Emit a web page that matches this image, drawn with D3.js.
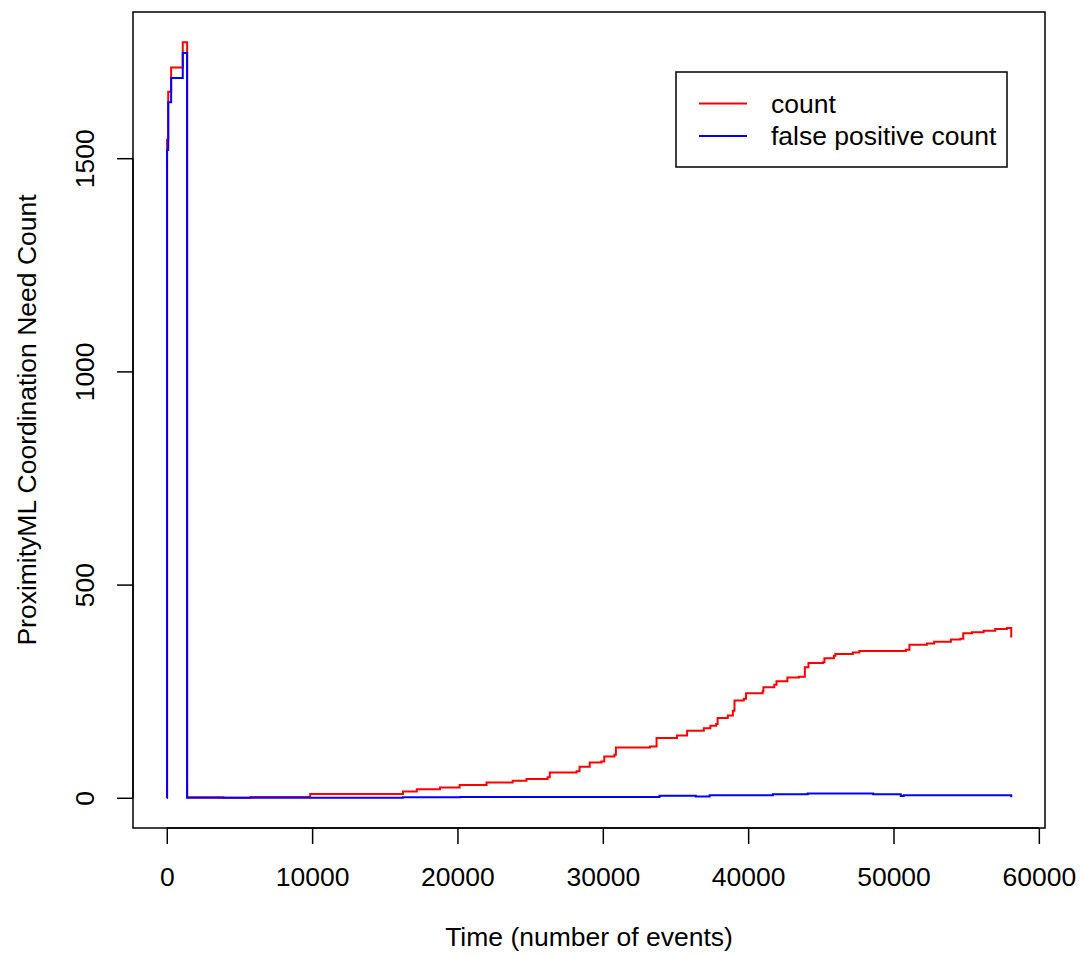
<!DOCTYPE html>
<html>
<head>
<meta charset="utf-8">
<script src="https://cdn.jsdelivr.net/npm/d3@7"></script>
<style>
  body { margin: 0; background: #fff; }
  text { font-family: "Liberation Sans", Arial, sans-serif; }
</style>
</head>
<body>
<div id="chart"></div>
<script>
// step series: value holds from x until the next x
const countX = [0, 20, 100, 300, 1100, 1400, 3900, 5750, 9870, 16250, 17200, 18800, 20150, 22000, 23800, 24750, 26200, 26350, 28200, 28400, 29100, 29900, 30100, 30800, 30900, 33250, 33700, 35100, 35800, 36950, 37400, 37800, 37900, 38600, 38950, 39060, 39700, 39850, 41000, 41050, 41800, 41950, 42700, 43500, 43900, 44150, 45150, 45250, 45900, 46000, 47200, 47650, 50850, 51100, 52300, 52800, 53950, 54600, 54800, 55400, 56200, 57000, 57800, 58100];
const countY = [0, 1543, 1656, 1713, 1772, 1, 0, 2, 9, 15, 20, 24, 30, 36, 40, 44, 48, 59, 62, 73, 83, 85, 97, 101, 118, 120, 140, 146, 157, 163, 169, 173, 187, 193, 204, 228, 232, 245, 250, 259, 265, 273, 282, 284, 306, 316, 318, 327, 333, 337, 341, 344, 347, 359, 362, 366, 371, 373, 386, 388, 392, 396, 398, 376];
const fpX = [0, 20, 100, 300, 1100, 1400, 16250, 20200, 30250, 33900, 36400, 37350, 41700, 44100, 48600, 50500, 50700, 58100];
const fpY = [0, 1519, 1631, 1688, 1747, 0, 1, 2, 2, 5, 3, 6, 8, 10, 8, 4, 6, 1];
const xTicks = [0, 10000, 20000, 30000, 40000, 50000, 60000];
const yTicks = [0, 500, 1000, 1500];
const seriesNames = ["count", "false positive count"];
const seriesColors = ["#ff0000", "#0000ff"];

const W = 1083, H = 956;
const box = { left: 133, right: 1045, top: 12, bottom: 828 };
const fs = 26.5;

const svg = d3.select("#chart").append("svg").attr("width", W).attr("height", H);

// R style: data range padded by 4% on each side
const xMax = d3.max(countX), yMax = d3.max(countY.concat(fpY));
const x = d3.scaleLinear().domain([-0.04 * xMax, 1.04 * xMax]).range([box.left, box.right]);
const y = d3.scaleLinear().domain([-0.04 * yMax, 1.04 * yMax]).range([box.bottom, box.top]);

const line = d3.line().x(d => x(d[0])).y(d => y(d[1])).curve(d3.curveStepAfter);
const series = [d3.zip(countX, countY), d3.zip(fpX, fpY)];

svg.selectAll(".series")
  .data(series)
  .enter()
  .append("path")
  .attr("d", line)
  .attr("fill", "none")
  .attr("stroke", (d, i) => seriesColors[i])
  .attr("stroke-width", 2);

// plot box
svg.append("rect")
  .attr("x", box.left).attr("y", box.top)
  .attr("width", box.right - box.left).attr("height", box.bottom - box.top)
  .attr("fill", "none").attr("stroke", "#000").attr("stroke-width", 1.5);

const gx = svg.append("g").attr("transform", "translate(0," + box.bottom + ")")
  .call(d3.axisBottom(x).tickValues(xTicks).tickSize(16).tickFormat(d3.format("d")));
gx.select(".domain").attr("d", "M" + x(0) + ",0H" + x(60000)).attr("stroke-width", 1.5);
gx.selectAll(".tick line").attr("stroke-width", 1.5);
gx.selectAll(".tick text")
  .attr("y", 58).attr("dy", null)
  .attr("font-size", fs).attr("fill", "#000")
  .style("font-family", "'Liberation Sans', Arial, sans-serif");

const gy = svg.append("g").attr("transform", "translate(" + box.left + ",0)")
  .call(d3.axisLeft(y).tickValues(yTicks).tickSize(16).tickFormat(d3.format("d")));
gy.select(".domain").attr("d", "M0," + y(0) + "V" + y(1500)).attr("stroke-width", 1.5);
gy.selectAll(".tick line").attr("stroke-width", 1.5);
gy.selectAll(".tick text")
  .attr("x", 0).attr("y", -(box.left - 94)).attr("dy", null)
  .attr("transform", "rotate(-90)")
  .attr("text-anchor", "middle")
  .attr("font-size", fs).attr("fill", "#000")
  .style("font-family", "'Liberation Sans', Arial, sans-serif");

svg.append("text")
  .attr("x", (box.left + box.right) / 2).attr("y", 946)
  .attr("text-anchor", "middle").attr("font-size", fs)
  .text("Time (number of events)");

svg.append("text")
  .attr("transform", "translate(36," + (box.top + box.bottom) / 2 + ") rotate(-90)")
  .attr("text-anchor", "middle").attr("font-size", fs)
  .text("ProximityML Coordination Need Count");

// legend
const lg = svg.append("g");
lg.append("rect")
  .attr("x", 676).attr("y", 72).attr("width", 331).attr("height", 95)
  .attr("fill", "#fff").attr("stroke", "#000").attr("stroke-width", 1.5);
const item = lg.selectAll(".item").data(seriesNames).enter().append("g")
  .attr("transform", (d, i) => "translate(0," + (103.5 + i * 32.5) + ")");
item.append("line")
  .attr("x1", 699).attr("x2", 747)
  .attr("stroke", (d, i) => seriesColors[i]).attr("stroke-width", 2);
item.append("text")
  .attr("x", 771).attr("y", 9).attr("font-size", fs)
  .text(d => d);
</script>
</body>
</html>
